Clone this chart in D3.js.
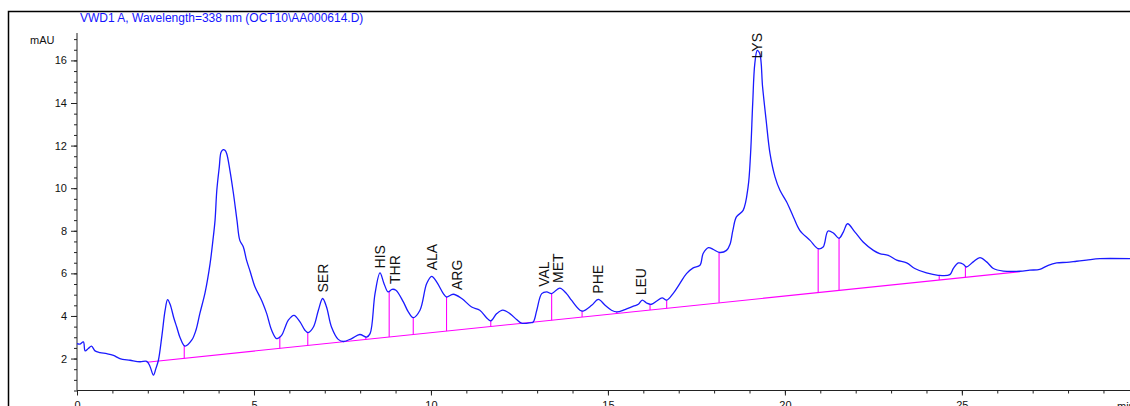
<!DOCTYPE html>
<html>
<head>
<meta charset="utf-8">
<script src="https://cdn.jsdelivr.net/npm/d3@7"></script>
<style>
  html, body { margin: 0; padding: 0; background: #fff; overflow: hidden; }
  svg { display: block; }
  text { font-family: "Liberation Sans", Arial, sans-serif; }
</style>
</head>
<body>
<svg id="chart" width="1130" height="406"></svg>
<script>
// Chromatogram trace: retention time (min) and detector signal (mAU)
const timeMin = [
  0.00, 0.08, 0.18, 0.23, 0.32, 0.41, 0.51, 0.65, 0.84, 1.03, 1.21, 1.50, 1.78, 1.97,
  2.06, 2.16, 2.23, 2.30, 2.40, 2.49, 2.56, 2.63, 2.74, 2.82, 2.91, 3.05, 3.24, 3.36,
  3.47, 3.62, 3.76, 3.84, 3.90, 3.95, 4.02, 4.07, 4.13, 4.18, 4.23, 4.32, 4.42, 4.52,
  4.60, 4.70, 4.79, 4.89, 5.03, 5.17, 5.25, 5.36, 5.50, 5.64, 5.78, 5.88, 5.97, 6.13,
  6.30, 6.44, 6.53, 6.68, 6.82, 6.94, 7.05, 7.19, 7.38, 7.53, 7.76, 7.99, 8.18, 8.28,
  8.42, 8.56, 8.67, 8.79, 8.90, 9.01, 9.22, 9.36, 9.50, 9.69, 9.88, 10.02, 10.16, 10.35,
  10.44, 10.63, 10.87, 11.15, 11.38, 11.57, 11.69, 11.86, 12.03, 12.23, 12.42, 12.56, 12.80, 12.89,
  12.99, 13.13, 13.27, 13.41, 13.64, 13.83, 13.97, 14.21, 14.30, 14.54, 14.73, 14.92, 15.10, 15.25,
  15.48, 15.72, 15.86, 15.97, 16.09, 16.23, 16.38, 16.53, 16.66, 16.84, 17.03, 17.22, 17.41, 17.60,
  17.69, 17.84, 17.98, 18.16, 18.35, 18.45, 18.53, 18.63, 18.82, 18.96, 19.03, 19.09, 19.15, 19.22,
  19.29, 19.37, 19.47, 19.58, 19.72, 19.86, 20.05, 20.24, 20.42, 20.71, 20.94, 21.08, 21.12, 21.22,
  21.38, 21.53, 21.65, 21.77, 21.98, 22.21, 22.50, 22.68, 22.92, 23.16, 23.44, 23.67, 24.00, 24.33,
  24.66, 24.76, 24.90, 25.04, 25.13, 25.32, 25.51, 25.70, 25.89, 26.17, 26.64, 26.92, 27.20, 27.44,
  27.68, 27.96, 28.24, 28.52, 28.90, 29.75
];
const signalMAU = [
  2.70, 2.68, 2.78, 2.36, 2.47, 2.58, 2.36, 2.28, 2.23, 2.15, 2.00, 1.92, 1.85, 1.87,
  1.64, 1.22, 1.54, 1.92, 3.09, 4.27, 4.77, 4.55, 3.88, 3.47, 2.99, 2.58, 2.86, 3.33,
  4.11, 5.11, 6.46, 7.55, 8.49, 9.90, 11.00, 11.69, 11.81, 11.78, 11.62, 10.84, 9.75, 8.49,
  7.55, 7.24, 6.62, 6.10, 5.36, 4.89, 4.60, 4.11, 3.33, 2.94, 3.09, 3.47, 3.80, 4.03,
  3.72, 3.33, 3.22, 3.48, 4.27, 4.82, 4.42, 3.48, 2.90, 2.80, 2.94, 3.13, 3.01, 3.17,
  5.05, 6.02, 5.54, 5.13, 5.25, 5.21, 4.66, 4.19, 3.92, 4.27, 5.52, 5.86, 5.60, 5.05,
  4.89, 5.02, 4.82, 4.42, 4.27, 3.92, 3.77, 4.11, 4.27, 4.11, 3.83, 3.66, 3.68, 3.72,
  4.27, 5.05, 5.13, 5.05, 5.31, 5.05, 4.74, 4.27, 4.23, 4.50, 4.78, 4.50, 4.27, 4.19,
  4.30, 4.46, 4.55, 4.74, 4.61, 4.55, 4.70, 4.85, 4.74, 5.05, 5.52, 5.99, 6.26, 6.38,
  6.93, 7.21, 7.12, 6.98, 7.08, 7.37, 8.02, 8.65, 8.96, 10.06, 11.62, 13.97, 15.85, 16.47,
  16.32, 14.75, 13.19, 11.62, 10.53, 9.90, 9.35, 8.65, 8.02, 7.55, 7.16, 7.24, 7.40, 7.99,
  7.88, 7.65, 7.94, 8.33, 7.94, 7.47, 7.08, 6.93, 6.85, 6.62, 6.49, 6.23, 6.02, 5.91,
  5.94, 6.23, 6.49, 6.43, 6.30, 6.54, 6.74, 6.54, 6.23, 6.11, 6.10, 6.15, 6.19, 6.38,
  6.49, 6.52, 6.57, 6.62, 6.69, 6.69
];

// Integration baseline (start / end) and peak drop-line times
const baselineTimes = [1.97, 26.64];
const baselineMAU = [1.83, 6.08];
const dropTimes = [3.03, 5.73, 6.52, 8.16, 8.82, 9.50, 10.44, 11.69, 13.41, 14.27,
                   15.25, 16.19, 16.66, 18.14, 20.94, 21.53, 24.36, 25.10];

// Identified amino acids
const peakNames = ["SER", "HIS", "THR", "ALA", "ARG", "VAL", "MET", "PHE", "LEU", "LYS"];
const peakTimes = [6.94, 8.55, 8.98, 10.02, 10.73, 13.19, 13.60, 14.72, 15.94, 19.22];

// Axis ticks
const xTickLabels = [0, 5, 10, 15, 20, 25];
const xMinorTicks = d3.range(0, 30, 1);
const yTickLabels = [2, 4, 6, 8, 10, 12, 14, 16];
const yMinorTicks = d3.range(0.5, 17.01, 0.5);

const titleText = "VWD1 A, Wavelength=338 nm (OCT10\\AA000614.D)";

const svg = d3.select("#chart");
const x = d3.scaleLinear().domain([0, 29.75]).range([77, 1130]);
const y = d3.scaleLinear().domain([0.5, 17.24]).range([390.5, 34]);

const font = '"Liberation Sans", Arial, sans-serif';

// outer frame
svg.append("path")
  .attr("d", "M8.5,406 V11.5 H1130")
  .attr("fill", "none").attr("stroke", "#000").attr("stroke-width", 1.5);

// title
svg.append("text")
  .attr("x", 80).attr("y", 22)
  .attr("fill", "#1414ff")
  .style("font-size", "12px")
  .text(titleText);

// y axis
const yAxisG = svg.append("g").attr("transform", "translate(77,0)");
yAxisG.append("g")
  .call(d3.axisLeft(y).tickValues(yMinorTicks).tickSize(3).tickFormat(""))
  .call(g => g.select(".domain").remove());
yAxisG.append("g")
  .call(d3.axisLeft(y).tickValues(yTickLabels).tickSize(6).tickPadding(4).tickFormat(d3.format("d")))
  .call(g => g.select(".domain").remove());
yAxisG.append("line")
  .attr("x1", 0).attr("x2", 0).attr("y1", 33).attr("y2", y(0.5));
yAxisG.selectAll("line").attr("stroke", "#222");
yAxisG.selectAll("text").attr("fill", "#111").style("font-size", "11px").style("font-family", font);

svg.append("text")
  .attr("x", 30).attr("y", 44)
  .attr("fill", "#111").style("font-size", "11px")
  .text("mAU");

// x axis
const xAxisG = svg.append("g").attr("transform", `translate(0,${y(0.5)})`);
xAxisG.append("g")
  .call(d3.axisBottom(x).tickValues(xMinorTicks).tickSize(3).tickFormat(""))
  .call(g => g.select(".domain").remove());
xAxisG.append("g")
  .call(d3.axisBottom(x).tickValues(xTickLabels).tickSize(5).tickPadding(6).tickFormat(d3.format("d")))
  .call(g => g.select(".domain").remove());
xAxisG.append("line")
  .attr("x1", x(0)).attr("x2", 1130).attr("y1", 0).attr("y2", 0);
xAxisG.selectAll("line").attr("stroke", "#222");
xAxisG.selectAll("text").attr("fill", "#111").style("font-size", "11px").style("font-family", font);

svg.append("text")
  .attr("x", 1117).attr("y", y(0.5) + 19)
  .attr("fill", "#111").style("font-size", "11px")
  .text("min");

// helpers
function signalAt(t) {
  const i = Math.max(1, Math.min(timeMin.length - 1, d3.bisectLeft(timeMin, t)));
  const t0 = timeMin[i - 1], t1 = timeMin[i];
  const f = (t - t0) / (t1 - t0);
  return signalMAU[i - 1] + f * (signalMAU[i] - signalMAU[i - 1]);
}
const baselineAt = d3.scaleLinear().domain(baselineTimes).range(baselineMAU);

// baseline
svg.append("line")
  .attr("x1", x(baselineTimes[0])).attr("y1", y(baselineMAU[0]))
  .attr("x2", x(baselineTimes[1])).attr("y2", y(baselineMAU[1]))
  .attr("stroke", "#ff00ff").attr("stroke-width", 1.1);

// drop lines
svg.append("g").selectAll("line")
  .data(dropTimes)
  .join("line")
  .attr("x1", d => x(d)).attr("x2", d => x(d))
  .attr("y1", d => y(baselineAt(d)))
  .attr("y2", d => y(signalAt(d)))
  .attr("stroke", "#ff00ff").attr("stroke-width", 1.1);

// signal trace
const trace = d3.range(timeMin.length).map(i => [timeMin[i], signalMAU[i]]);
svg.append("path")
  .datum(trace)
  .attr("fill", "none")
  .attr("stroke", "#1a1aff")
  .attr("stroke-width", 1.3)
  .attr("stroke-linejoin", "round")
  .attr("d", d3.line()
    .x(d => x(d[0]))
    .y(d => y(d[1]))
    .curve(d3.curveCatmullRom.alpha(0.5)));

// peak labels (rotated, just above each apex; kept inside the plot top)
const labels = svg.append("g").selectAll("text")
  .data(peakNames.map((n, i) => ({ name: n, t: peakTimes[i] })))
  .join("text")
  .attr("fill", "#111")
  .style("font-size", "14px")
  .attr("text-anchor", "start")
  .attr("dy", "0.36em")
  .text(d => d.name);
labels.each(function (d) {
  const len = this.getComputedTextLength();
  let bottom = y(signalAt(d.t)) - 6;
  if (bottom - len < 33) bottom = 33 + len;
  d3.select(this).attr("transform", `translate(${x(d.t)},${bottom}) rotate(-90)`);
});
</script>
</body>
</html>
